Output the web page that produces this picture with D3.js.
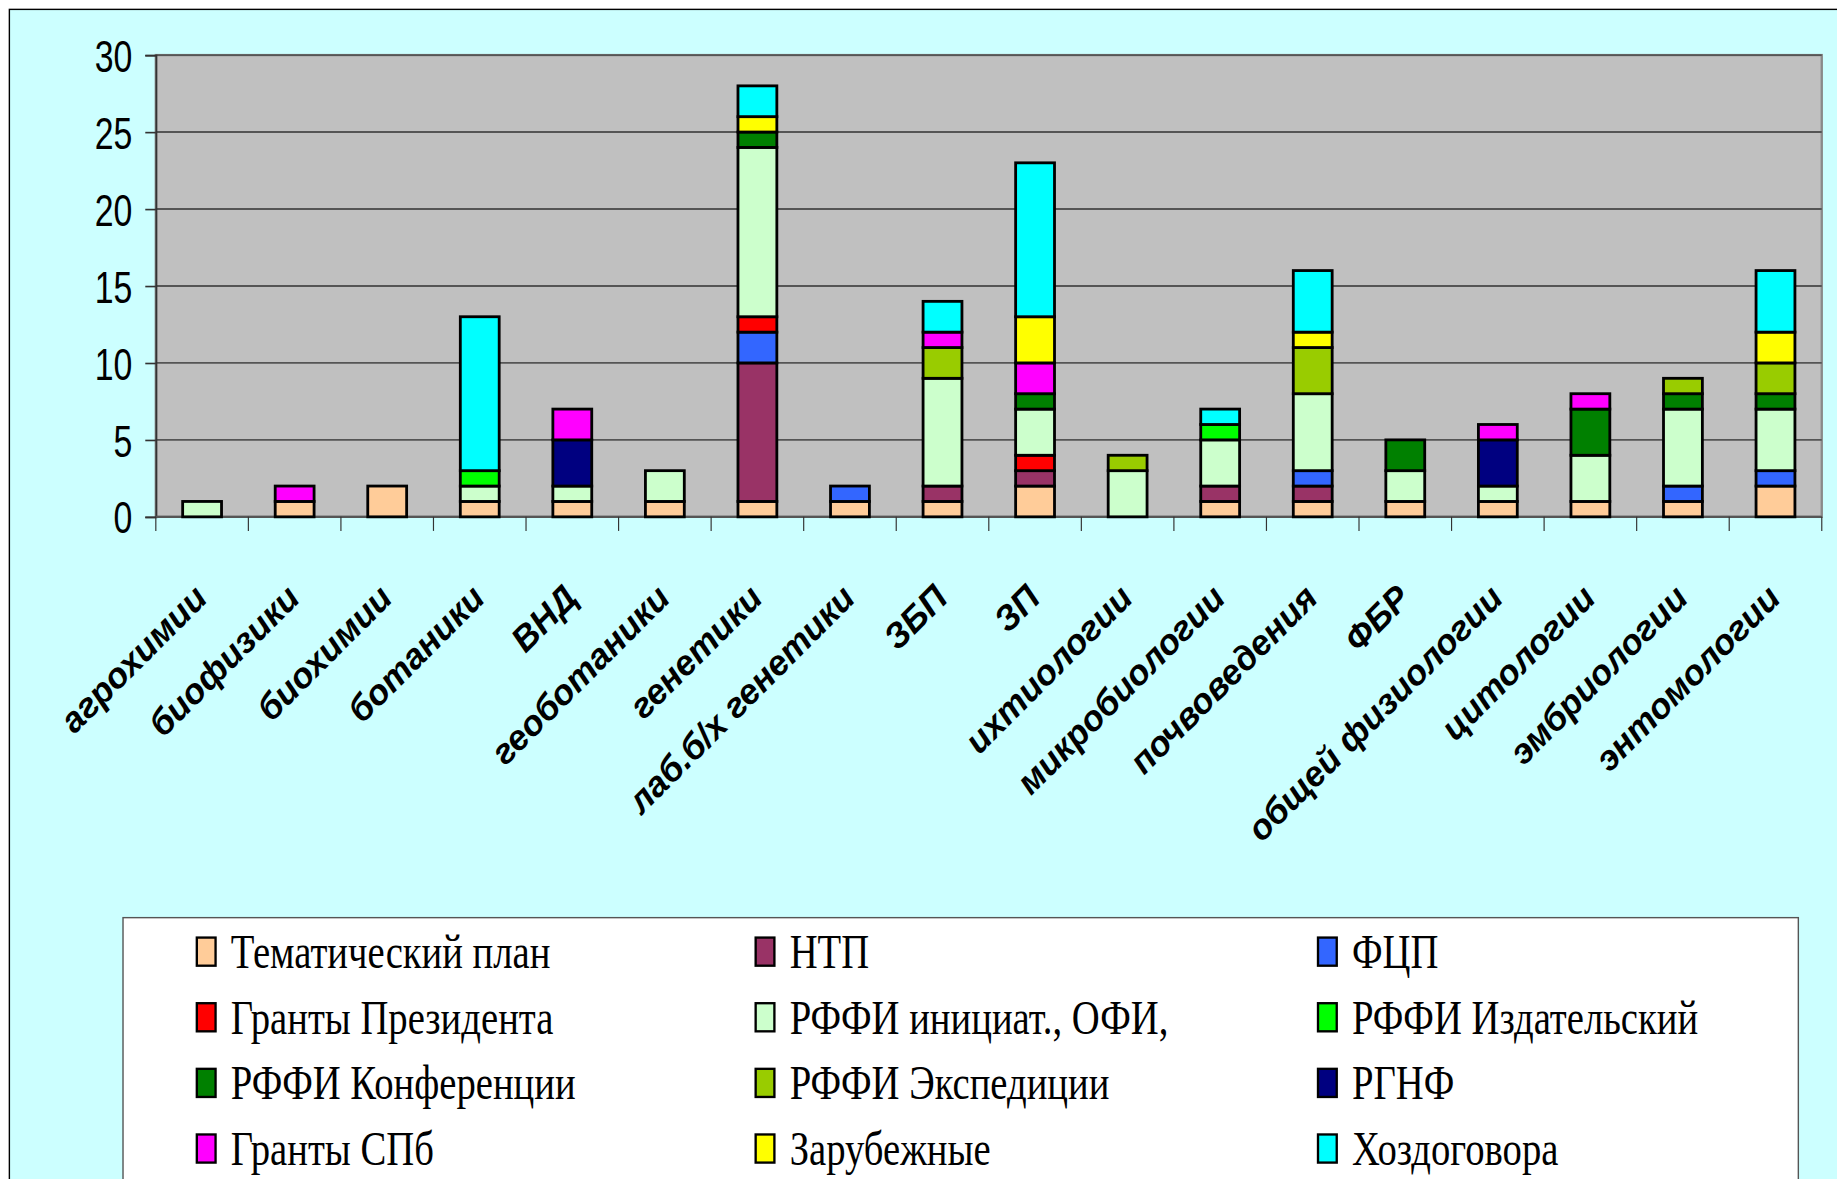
<!DOCTYPE html>
<html>
<head>
<meta charset="utf-8">
<script src="https://cdn.jsdelivr.net/npm/d3@7"></script>
<style>
  body { margin: 0; overflow: hidden; background: #ffffff; }
</style>
</head>
<body>
<div id="chart"></div>
<script>
// Categories (laboratories)
const categories = ["агрохимии", "биофизики", "биохимии", "ботаники", "ВНД", "геоботаники",
   "генетики", "лаб.б/х генетики", "ЗБП", "ЗП", "ихтиологии", "микробиологии",
   "почвоведения", "ФБР", "общей физиологии", "цитологии", "эмбриологии", "энтомологии"];
// Series names, bottom of the stack first
const seriesNames = ["Тематический план", "НТП", "ФЦП", "Гранты Президента",
   "РФФИ инициат., ОФИ,", "РФФИ Издательский", "РФФИ Конференции", "РФФИ Экспедиции",
   "РГНФ", "Гранты СПб", "Зарубежные", "Хоздоговора"];
// Series values, one per category
const temPlan   = [0, 1, 2, 1, 1, 1, 1, 1, 1, 2, 0, 1, 1, 1, 1, 1, 1, 2];
const ntp       = [0, 0, 0, 0, 0, 0, 9, 0, 1, 1, 0, 1, 1, 0, 0, 0, 0, 0];
const fcp       = [0, 0, 0, 0, 0, 0, 2, 1, 0, 0, 0, 0, 1, 0, 0, 0, 1, 1];
const prezident = [0, 0, 0, 0, 0, 0, 1, 0, 0, 1, 0, 0, 0, 0, 0, 0, 0, 0];
const rffiInit  = [1, 0, 0, 1, 1, 2, 11, 0, 7, 3, 3, 3, 5, 2, 1, 3, 5, 4];
const rffiIzd   = [0, 0, 0, 1, 0, 0, 0, 0, 0, 0, 0, 1, 0, 0, 0, 0, 0, 0];
const rffiKonf  = [0, 0, 0, 0, 0, 0, 1, 0, 0, 1, 0, 0, 0, 2, 0, 3, 1, 1];
const rffiExp   = [0, 0, 0, 0, 0, 0, 0, 0, 2, 0, 1, 0, 3, 0, 0, 0, 1, 2];
const rgnf      = [0, 0, 0, 0, 3, 0, 0, 0, 0, 0, 0, 0, 0, 0, 3, 0, 0, 0];
const spb       = [0, 1, 0, 0, 2, 0, 0, 0, 1, 2, 0, 0, 0, 0, 1, 1, 0, 0];
const zarub     = [0, 0, 0, 0, 0, 0, 1, 0, 0, 3, 0, 0, 1, 0, 0, 0, 0, 2];
const hozdog    = [0, 0, 0, 10, 0, 0, 2, 0, 2, 10, 0, 1, 4, 0, 0, 0, 0, 4];
// Y axis ticks
const yTicks = [0, 5, 10, 15, 20, 25, 30];

const seriesValues = [temPlan, ntp, fcp, prezident, rffiInit, rffiIzd, rffiKonf, rffiExp,
   rgnf, spb, zarub, hozdog];
const seriesColors = ["#FFCC99", "#993366", "#3366FF", "#FF0000", "#CCFFCC", "#00FF00",
   "#008000", "#99CC00", "#000080", "#FF00FF", "#FFFF00", "#00FFFF"];

// Build table rows for d3.stack
const table = categories.map((c, i) => {
   const row = { category: c };
   seriesNames.forEach((s, j) => { row[s] = seriesValues[j][i]; });
   return row;
});

// **Canvas, drawn in 1568x1006 units and scaled to the window
const vbW = 1568, vbH = 1006;
const svg = d3.select("#chart").append("svg")
   .attr("width", 1837)
   .attr("height", 1179)
   .attr("viewBox", `0 0 ${vbW} ${vbH}`)
   .attr("preserveAspectRatio", "none");

// Chart area background
svg.append("rect")
   .attr("x", 8).attr("y", 8)
   .attr("width", vbW).attr("height", vbH)
   .attr("fill", "#CCFFFF")
   .attr("stroke", "#000").attr("stroke-width", 1.2);

const plot = { left: 133, right: 1555, top: 47, bottom: 441 };

// **Scales
const x = d3.scaleBand()
   .domain(categories)
   .range([plot.left, plot.right])
   .paddingInner(0.58)
   .paddingOuter(0.29);
const xBoundary = d3.scaleLinear()
   .domain([0, categories.length])
   .range([plot.left, plot.right]);
const y = d3.scaleLinear()
   .domain([0, 30])
   .range([plot.bottom, plot.top]);

// Plot area
svg.append("rect")
   .attr("x", plot.left).attr("y", plot.top)
   .attr("width", plot.right - plot.left).attr("height", plot.bottom - plot.top)
   .attr("fill", "#C0C0C0")
   .attr("stroke", "#8a8a8a").attr("stroke-width", 2);

// Gridlines
svg.append("g")
   .selectAll("line")
   .data(yTicks.filter(t => t > 0))
   .enter().append("line")
   .attr("x1", plot.left).attr("x2", plot.right)
   .attr("y1", d => y(d)).attr("y2", d => y(d))
   .attr("stroke", "#555").attr("stroke-width", 1.6);

// **Y axis
const yAxis = svg.append("g")
   .attr("transform", `translate(${plot.left},0)`)
   .call(d3.axisLeft(y).tickValues(yTicks).tickSize(9).tickPadding(6));
yAxis.select(".domain").attr("stroke", "#333").attr("stroke-width", 1.6);
yAxis.selectAll(".tick line").attr("stroke", "#333").attr("stroke-width", 1.4);
yAxis.selectAll(".tick text")
   .attr("font-family", "Liberation Sans, Arial, sans-serif")
   .attr("font-size", 38)
   .attr("fill", "#000")
   .attr("x", 0)
   .attr("dy", "0.36em")
   .attr("transform", "translate(-20,0) scale(0.76,1)");

// **X axis line and boundary ticks
svg.append("line")
   .attr("x1", plot.left).attr("x2", plot.right)
   .attr("y1", plot.bottom).attr("y2", plot.bottom)
   .attr("stroke", "#555").attr("stroke-width", 2);
svg.append("g")
   .selectAll("line")
   .data(d3.range(categories.length + 1))
   .enter().append("line")
   .attr("x1", d => xBoundary(d)).attr("x2", d => xBoundary(d))
   .attr("y1", plot.bottom).attr("y2", plot.bottom + 12)
   .attr("stroke", "#333").attr("stroke-width", 1);

// X labels, rotated
svg.append("g")
   .selectAll("text")
   .data(categories)
   .enter().append("text")
   .attr("transform", d => `translate(${x(d) + x.bandwidth() / 2 + 6},${512}) rotate(-45)`)
   .attr("text-anchor", "end")
   .attr("font-family", "Liberation Sans, Arial, sans-serif")
   .attr("font-weight", "bold")
   .attr("font-style", "italic")
   .attr("font-size", 30)
   .attr("fill", "#000")
   .text(d => d);

// **Stacked bars
const stacked = d3.stack().keys(seriesNames)(table);
svg.append("g")
   .selectAll("g")
   .data(stacked)
   .enter().append("g")
   .attr("fill", (d, i) => seriesColors[i])
   .selectAll("rect")
   .data(d => d.filter(p => p[1] - p[0] > 0))
   .enter().append("rect")
   .attr("x", d => x(d.data.category))
   .attr("width", x.bandwidth())
   .attr("y", d => y(d[1]))
   .attr("height", d => y(d[0]) - y(d[1]))
   .attr("stroke", "#000")
   .attr("stroke-width", 2.4);

// **Legend
svg.append("rect")
   .attr("x", 105).attr("y", 783)
   .attr("width", 1430).attr("height", 260)
   .attr("fill", "#fff")
   .attr("stroke", "#555").attr("stroke-width", 1.2);

const legendCols = [168, 645, 1125];
const legend = svg.append("g")
   .selectAll("g")
   .data(seriesNames)
   .enter().append("g")
   .attr("transform", (d, i) => `translate(${legendCols[i % 3]},${800 + Math.floor(i / 3) * 56})`);
legend.append("rect")
   .attr("width", 16).attr("height", 24)
   .attr("fill", (d, i) => seriesColors[i])
   .attr("stroke", "#000").attr("stroke-width", 2);
legend.append("text")
   .attr("transform", "translate(29,26) scale(0.805,1)")
   .attr("font-family", "Liberation Serif, Times New Roman, serif")
   .attr("font-size", 41)
   .attr("fill", "#000")
   .text(d => d);
</script>
</body>
</html>
